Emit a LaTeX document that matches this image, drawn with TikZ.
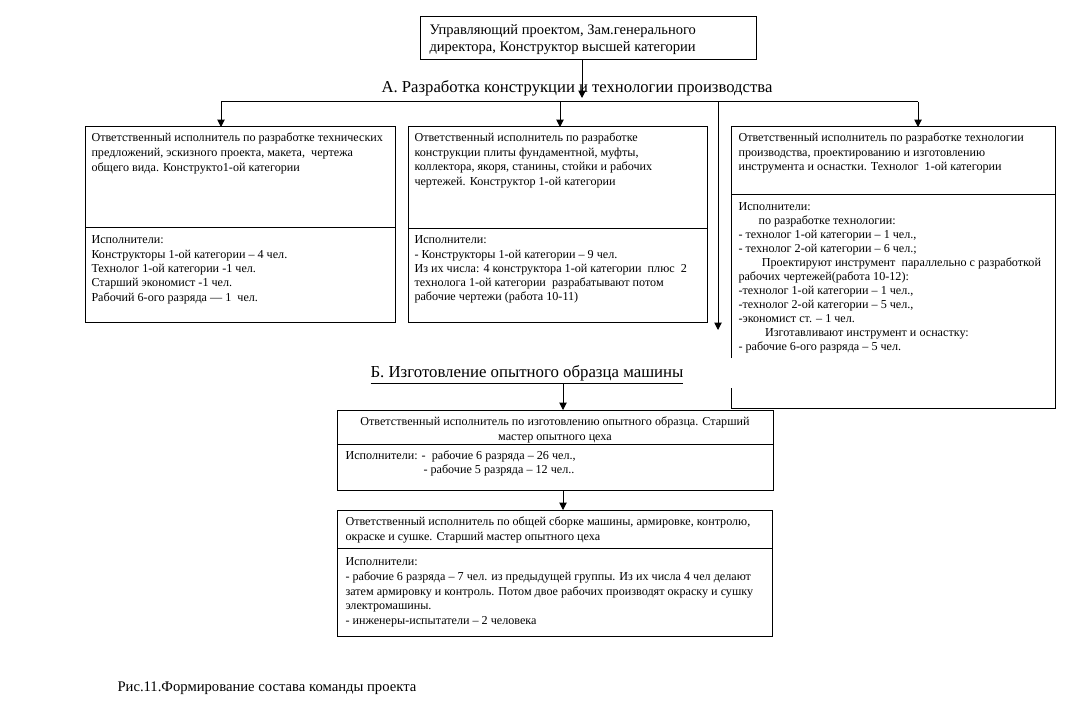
\documentclass[tikz,border=0pt]{standalone}
\usepackage{fontspec}
\setmainfont{Liberation Serif}
\usetikzlibrary{arrows.meta}
\begin{document}
\begin{tikzpicture}[x=0.75pt,y=-0.75pt, line width=0.75pt,
  txt/.style={anchor=north west, inner sep=0pt, align=left, font=\fontsize{9.1}{10.9}\selectfont},
  txtb/.style={txt, font=\fontsize{9.1}{10.6}\selectfont},
  arr/.style={-{Triangle[width=5.5pt,length=5.5pt]}}]
\useasboundingbox[fill=white] (0,0) rectangle (1081,709);
% top box
\coordinate (t1) at (420,17); \coordinate (t2) at (756,60);
\draw (t1) rectangle (t2);
\node[txt, font=\fontsize{10.9}{12.75}\selectfont] (toptxt) at (429,24) {Управляющий проектом, Зам.генерального\\директора, Конструктор высшей категории};
\node[inner sep=0pt, font=\fontsize{12.5}{14}\selectfont] (titleA) at (577,88) {А. Разработка конструкции и технологии производства};
\coordinate (topS) at (582,60); \coordinate (aEnd) at (582,98);
\draw[arr] (topS) -- (aEnd);
% distribution line
\coordinate (hL) at (221,102); \coordinate (hR) at (918,102);
\coordinate (h2) at (560,102); \coordinate (h3) at (718,102);
\coordinate (v3) at (718,330);
\draw (hL) -- (hR);
% box 1
\coordinate (b1nw) at (85,127); \coordinate (b1se) at (395,322);
\draw (b1nw) rectangle (b1se);
\coordinate (b1d) at (85,228);
\draw (b1d) -- (b1d -| b1se);
\node[txt, font=\fontsize{9.1}{11.25}\selectfont] (b1top) at (91,132.5) {Ответственный исполнитель по разработке технических\\предложений, эскизного проекта, макета,\ \ чертежа\\общего вида. Конструкто1-ой категории};
\node[txtb, font=\fontsize{9.1}{10.7}\selectfont] (b1bot) at (91,235.5) {Исполнители:\\Конструкторы 1-ой категории – 4 чел.\\Технолог 1-ой категории -1 чел.\\Старший экономист -1 чел.\\Рабочий 6-ого разряда — 1\ \ чел.};
% box 2
\coordinate (b2nw) at (408,127); \coordinate (b2se) at (707,322);
\draw (b2nw) rectangle (b2se);
\coordinate (b2d) at (408,229);
\draw (b2d) -- (b2d -| b2se);
\node[txt] (b2top) at (414,132.5) {Ответственный исполнитель по разработке\\конструкции плиты фундаментной, муфты,\\коллектора, якоря, станины, стойки и рабочих\\чертежей. Конструктор 1-ой категории};
\node[txtb] (b2bot) at (414,235.5) {Исполнители:\\- Конструкторы 1-ой категории – 9 чел.\\Из их числа: 4 конструктора 1-ой категории\ \ плюс\ \ 2\\технолога 1-ой категории\ \ разрабатывают потом\\рабочие чертежи (работа 10-11)};
% box 3
\coordinate (b3nw) at (731,127); \coordinate (b3se) at (1055,408);
\coordinate (b3g1) at (731,358); \coordinate (b3g2) at (731,388);
\draw (b3g1) -- (b3nw) -- (b3nw -| b3se) -- (b3se) -- (b3se -| b3nw) -- (b3g2);
\coordinate (b3d) at (731,195);
\draw (b3d) -- (b3d -| b3se);
\node[txt] (b3top) at (738,132.5) {Ответственный исполнитель по разработке технологии\\производства, проектированию и изготовлению\\инструмента и оснастки. Технолог\ \ 1-ой категории};
\node[txtb, font=\fontsize{9.1}{10.5}\selectfont] (b3bot) at (738,202.5) {Исполнители:\\\hspace*{15pt}по разработке технологии:\\- технолог 1-ой категории – 1 чел.,\\- технолог 2-ой категории – 6 чел.;\\\hspace*{17.5pt}Проектируют инструмент\ \ параллельно с разработкой\\рабочих чертежей(работа 10-12):\\-технолог 1-ой категории – 1 чел.,\\-технолог 2-ой категории – 5 чел.,\\-экономист ст. – 1 чел.\\\hspace*{20pt}Изготавливают инструмент и оснастку:\\- рабочие 6-ого разряда – 5 чел.};
% arrows from distribution line
\draw[arr] (hL) -- (hL |- b1nw);
\draw[arr] (h2) -- (h2 |- b2nw);
\draw[arr] (hR) -- (hR |- b3nw);
\draw[arr] (h3) -- (v3);
% section B
\node[inner sep=0pt, font=\fontsize{12.6}{14}\selectfont] (titleB) at (527,375) {\underline{Б. Изготовление опытного образца машины}};
% box 4
\coordinate (b4nw) at (337,410); \coordinate (b4se) at (773,490);
\draw (b4nw) rectangle (b4se);
\coordinate (b4d) at (337,444);
\draw (b4d) -- (b4d -| b4se);
\node[txt, anchor=north, align=center] (b4top) at (555,416.5) {Ответственный исполнитель по изготовлению опытного образца. Старший\\мастер опытного цеха};
\node[txtb] (b4bot) at (345,450.5) {Исполнители: -\ \ рабочие 6 разряда – 26 чел.,\\\hspace*{58.5pt}- рабочие 5 разряда – 12 чел..};
\coordinate (bA) at (563,384);
\draw[arr] (bA) -- (bA |- b4nw);
% box 5
\coordinate (b5nw) at (337,510); \coordinate (b5se) at (772,636);
\draw (b5nw) rectangle (b5se);
\coordinate (b5d) at (337,548);
\draw (b5d) -- (b5d -| b5se);
\node[txt] (b5top) at (345,516.5) {Ответственный исполнитель по общей сборке машины, армировке, контролю,\\окраске и сушке. Старший мастер опытного цеха};
\node[txt] (b5bot) at (345,557.5) {Исполнители:\\- рабочие 6 разряда – 7 чел. из предыдущей группы. Из их числа 4 чел делают\\затем армировку и контроль. Потом двое рабочих производят окраску и сушку\\электромашины.\\- инженеры-испытатели – 2 человека};
\coordinate (b4s) at (563,490);
\draw[arr] (b4s) -- (b4s |- b5nw);
% caption
\node[anchor=west, inner sep=0pt, font=\fontsize{11}{12}\selectfont] (cap) at (117,688) {Рис.11.Формирование состава команды проекта};
\end{tikzpicture}
\end{document}
